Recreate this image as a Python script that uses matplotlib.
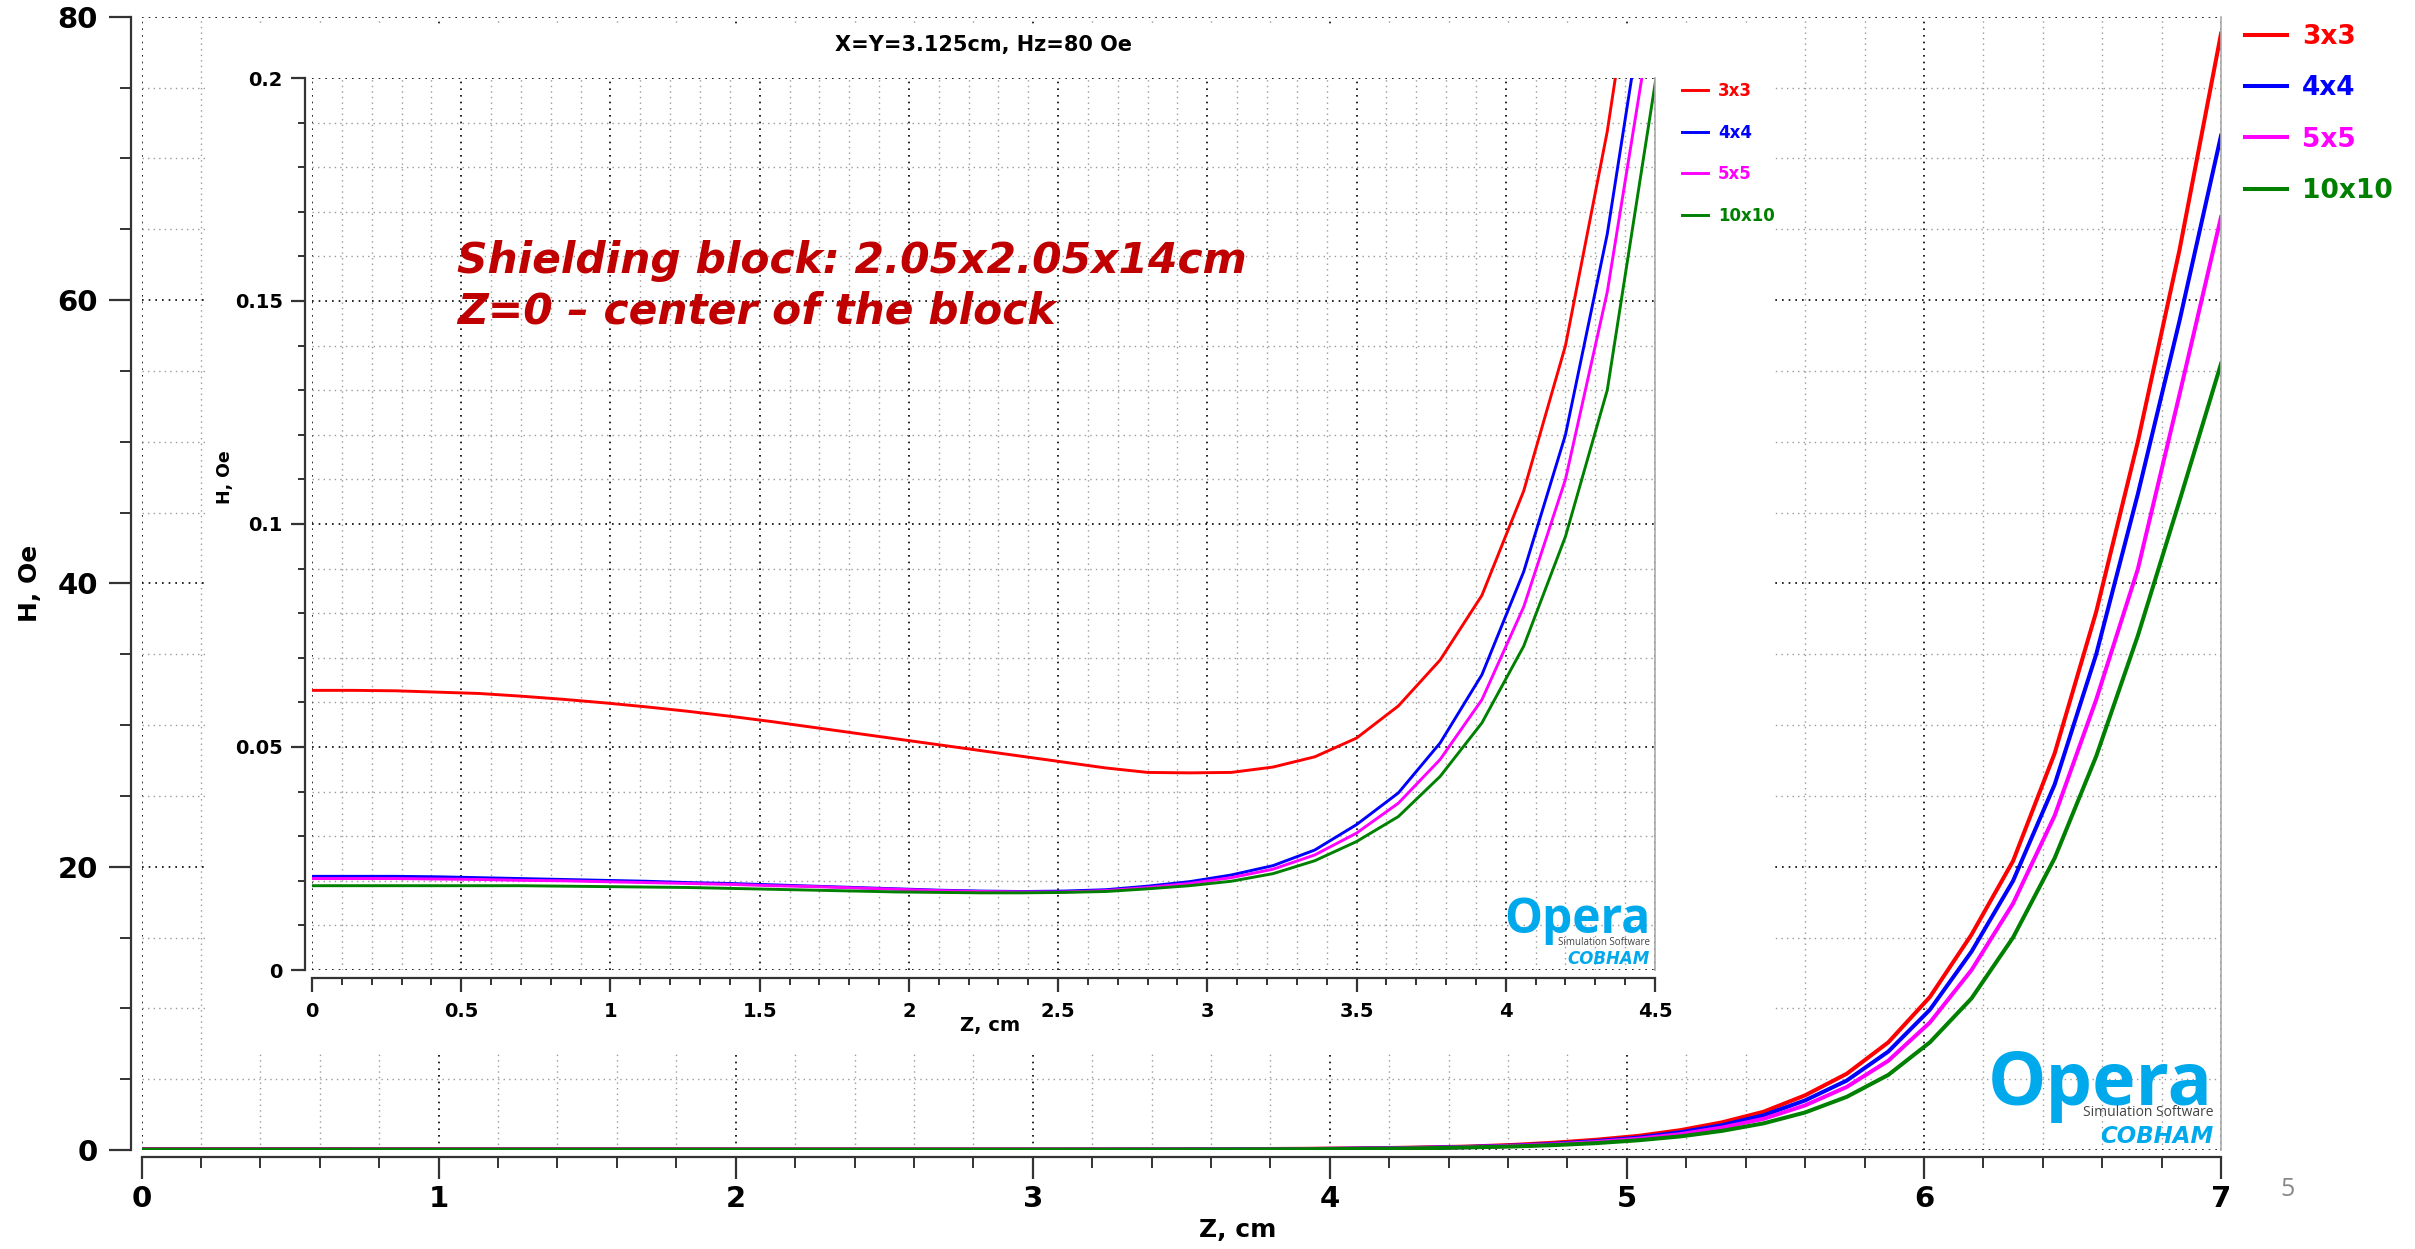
import matplotlib
matplotlib.use("Agg")
import matplotlib.pyplot as plt
from matplotlib.patches import Rectangle
from matplotlib.ticker import MultipleLocator, FormatStrFormatter
import numpy as np

plt.rcParams["font.family"] = ["DejaVu Sans"]
plt.rcParams["font.weight"] = "bold"
plt.rcParams["axes.labelweight"] = "bold"
plt.rcParams["axes.titleweight"] = "bold"

## data (Opera simulation, step 0.14 cm)
z = np.linspace(0, 7, 51)
labels = ["3x3", "4x4", "5x5", "10x10"]
colors = ["#ff0000", "#0000ff", "#ff00ff", "#008000"]

h_3x3 = [0.0627, 0.0627, 0.0626, 0.0623, 0.0620, 0.0614, 0.0607, 0.0599, 0.0590, 0.0580,
         0.0569, 0.0557, 0.0544, 0.0531, 0.0518, 0.0505, 0.0492, 0.0479, 0.0466, 0.0453,
         0.0443, 0.0442, 0.0443, 0.0455, 0.0478, 0.0520, 0.0592, 0.0695, 0.0840, 0.1074,
         0.140, 0.188, 0.25, 0.36, 0.52, 0.73, 1.0, 1.4, 1.95, 2.7,
         3.86, 5.38, 7.6, 10.8, 15.2, 20.4, 28.0, 38.0, 50.0, 63.5, 78.8]
h_4x4 = [0.0210, 0.0210, 0.0210, 0.0209, 0.0207, 0.0205, 0.0203, 0.0201, 0.0199, 0.0196,
         0.0194, 0.0191, 0.0188, 0.0185, 0.0182, 0.0179, 0.0177, 0.0176, 0.0177, 0.0180,
         0.0188, 0.0198, 0.0213, 0.0234, 0.0269, 0.0326, 0.0397, 0.0509, 0.0662, 0.0893,
         0.120, 0.165, 0.225, 0.31, 0.44, 0.63, 0.88, 1.25, 1.75, 2.45,
         3.5, 4.9, 6.95, 9.9, 14.0, 19.0, 25.8, 35.0, 46.3, 58.5, 71.6]
h_5x5 = [0.0205, 0.0205, 0.0205, 0.0204, 0.0203, 0.0201, 0.0200, 0.0198, 0.0196, 0.0194,
         0.0192, 0.0189, 0.0187, 0.0184, 0.0181, 0.0178, 0.0176, 0.0175, 0.0175, 0.0178,
         0.0185, 0.0194, 0.0207, 0.0226, 0.0258, 0.0307, 0.0374, 0.0472, 0.0606, 0.0814,
         0.110, 0.152, 0.21, 0.29, 0.40, 0.57, 0.80, 1.12, 1.58, 2.2,
         3.15, 4.45, 6.3, 9.0, 12.7, 17.4, 23.6, 31.8, 41.0, 53.3, 65.85]
h_10x10 = [0.0189, 0.0189, 0.0189, 0.0189, 0.0189, 0.0189, 0.0188, 0.0187, 0.0186, 0.0185,
           0.0183, 0.0181, 0.0179, 0.0177, 0.0175, 0.0174, 0.0173, 0.0173, 0.0174, 0.0176,
           0.0182, 0.0189, 0.0199, 0.0216, 0.0245, 0.0288, 0.0344, 0.0434, 0.0554, 0.0726,
           0.0972, 0.130, 0.19, 0.25, 0.35, 0.49, 0.69, 0.96, 1.35, 1.88,
           2.65, 3.75, 5.3, 7.6, 10.7, 15.0, 20.6, 27.8, 36.3, 45.8, 55.5]
series = [h_3x3, h_4x4, h_5x5, h_10x10]

W, H = 2415, 1249


def style(ax, off_left, off_bottom, maj_len, min_len, labsize, padx, pady):
    ax.grid(which="major", color="black", linestyle=(0, (1, 3)), linewidth=1.2)
    ax.grid(which="minor", color="#9a9a9a", linestyle=(0, (1, 3)), linewidth=1.0)
    ax.spines["top"].set_visible(False)
    ax.spines["right"].set_color("#aaaaaa")
    ax.spines["right"].set_linewidth(1.2)
    for s in ["left", "bottom"]:
        ax.spines[s].set_color("#333333")
        ax.spines[s].set_linewidth(1.6)
    ax.spines["left"].set_position(("outward", off_left))
    ax.spines["bottom"].set_position(("outward", off_bottom))
    ax.tick_params(which="major", direction="out", length=maj_len, width=1.6, color="#333333",
                   labelsize=labsize)
    ax.tick_params(which="minor", direction="out", length=min_len, width=1.4, color="#333333")
    ax.tick_params(axis="x", pad=padx)
    ax.tick_params(axis="y", pad=pady)


fig = plt.figure(figsize=(W / 100, H / 100), dpi=100)

## main plot
ax = fig.add_axes([141.6 / W, 1 - 1150 / H, 2079.4 / W, 1133.3 / H])
for ys, c, lab in zip(series, colors, labels):
    ax.plot(z, ys, color=c, lw=2.9, label=lab)
ax.set_xlim(0, 7)
ax.set_ylim(0, 80)
ax.xaxis.set_major_locator(MultipleLocator(1))
ax.xaxis.set_minor_locator(MultipleLocator(0.2))
ax.yaxis.set_major_locator(MultipleLocator(20))
ax.yaxis.set_minor_locator(MultipleLocator(5))
style(ax, 7.5, 5, 16, 8, 21, 4, 8)
ax.set_xlabel("Z, cm", fontsize=18, fontweight="bold")
ax.xaxis.set_label_coords(0.527, -0.060)
ax.set_ylabel("H, Oe", fontsize=18, fontweight="bold")
ax.yaxis.set_label_coords(-0.048, 0.5)
ax.legend(loc="upper left", bbox_to_anchor=(2245 / W, 1 - 24 / H), bbox_transform=fig.transFigure,
          frameon=False, borderpad=0, borderaxespad=0, handlelength=1.6, handletextpad=0.55,
          labelspacing=0.96, labelcolor="linecolor",
          prop={"family": "DejaVu Sans", "weight": "bold", "size": 19})

# Opera logo, main plot
ax.text(0.9962, 0.0397, "Opera", transform=ax.transAxes, ha="right", va="baseline",
        fontfamily="Open Sans", fontweight="bold", fontsize=53, color="#00a8ec", zorder=5)
ax.text(0.9962, 0.030, "Simulation Software", transform=ax.transAxes, ha="right", va="baseline",
        fontfamily="Open Sans", fontweight="normal", fontsize=10, color="#444444", zorder=5)
ax.text(0.9962, 0.0062, "COBHAM", transform=ax.transAxes, ha="right", va="baseline",
        fontfamily="DejaVu Sans", fontweight="bold", fontstyle="oblique", fontsize=16.5,
        color="#00a8ec", zorder=5)

# white background behind the inset
fig.add_artist(Rectangle((207 / W, 1 - 1052 / H), (1775 - 207) / W, (1052 - 25) / H,
                         transform=fig.transFigure, facecolor="white", edgecolor="none", zorder=0.5))

## inset
ins = fig.add_axes([312 / W, 1 - 970 / H, 1343 / W, 892 / H], zorder=1)
for ys, c, lab in zip(series, colors, labels):
    ins.plot(z, ys, color=c, lw=2.1, label=lab)
ins.set_xlim(0, 4.5)
ins.set_ylim(0, 0.2)
ins.xaxis.set_major_locator(MultipleLocator(0.5))
ins.xaxis.set_minor_locator(MultipleLocator(0.1))
ins.yaxis.set_major_locator(MultipleLocator(0.05))
ins.yaxis.set_minor_locator(MultipleLocator(0.01))
ins.xaxis.set_major_formatter(FormatStrFormatter("%g"))
ins.yaxis.set_major_formatter(FormatStrFormatter("%g"))
style(ins, 5, 5.8, 10, 5, 14, 7, 6)
ins.set_xlabel("Z, cm", fontsize=14, fontweight="bold")
ins.xaxis.set_label_coords(0.505, -0.052)
ins.set_ylabel("H, Oe", fontsize=12.5, fontweight="bold")
ins.yaxis.set_label_coords(-0.058, 0.552)
ins.set_title("X=Y=3.125cm, Hz=80 Oe", fontsize=15, fontweight="bold", y=1.030, pad=0)
ins.legend(loc="upper left", bbox_to_anchor=(1682 / W, 1 - 82 / H), bbox_transform=fig.transFigure,
           frameon=False, borderpad=0, borderaxespad=0, handlelength=1.56, handletextpad=0.6,
           labelspacing=1.42, labelcolor="linecolor",
           prop={"family": "DejaVu Sans", "weight": "bold", "size": 12})

ins.text(0.108, 0.7814, "Shielding block: 2.05x2.05x14cm", transform=ins.transAxes,
         ha="left", va="baseline", fontweight="bold", fontstyle="oblique", fontsize=30.5,
         color="#c00000")
ins.text(0.108, 0.7253, "Z=0 \u2013 center of the block", transform=ins.transAxes,
         ha="left", va="baseline", fontweight="bold", fontstyle="oblique", fontsize=30.5,
         color="#c00000")

# Opera logo, inset
ins.text(0.9963, 0.0415, "Opera", transform=ins.transAxes, ha="right", va="baseline",
         fontfamily="Open Sans", fontweight="bold", fontsize=34.5, color="#00a8ec", zorder=5)
ins.text(0.9963, 0.028, "Simulation Software", transform=ins.transAxes, ha="right", va="baseline",
         fontfamily="Open Sans", fontweight="normal", fontsize=7, color="#444444", zorder=5)
ins.text(0.9963, 0.0062, "COBHAM", transform=ins.transAxes, ha="right", va="baseline",
         fontweight="bold", fontstyle="oblique", fontsize=12, color="#00a8ec", zorder=5)

# slide number
fig.text(2288 / W, 1 - 1190 / H, "5", ha="center", va="center", fontfamily="Open Sans",
         fontweight="normal", fontsize=18, color="#888888")

fig.savefig("out.png", dpi=100, facecolor="white")
